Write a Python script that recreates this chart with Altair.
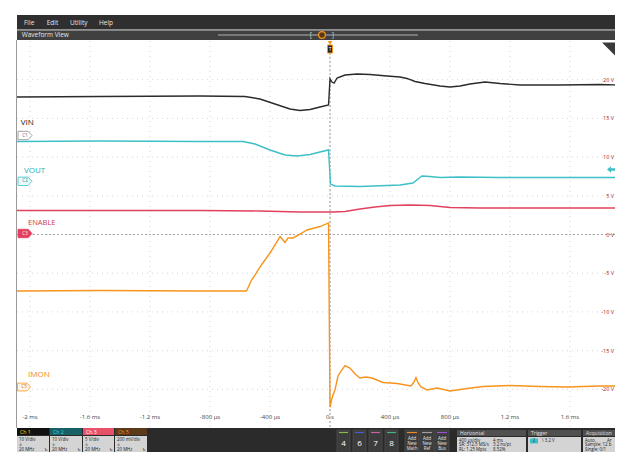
import altair as alt
import pandas as pd

# ---------------- data (time in ms, value in on-screen volts of the 5 V/div scale) -------------
time_ticks = [-2.0, -1.6, -1.2, -0.8, -0.4, 0.0, 0.4, 0.8, 1.2, 1.6]
time_labels = ["-2 ms", "-1.6 ms", "-1.2 ms", "-800 µs", "-400 µs", "0 s",
               "400 µs", "800 µs", "1.2 ms", "1.6 ms"]
volt_ticks = [20, 15, 10, 5, 0, -5, -10, -15, -20]
volt_labels = ["20 V", "15 V", "10 V", "5 V", "0 V", "-5 V", "-10 V", "-15 V", "-20 V"]

vin_t = [-2.087, -1.533, -0.867, -0.567, -0.467, -0.367, -0.267, -0.2, -0.133, -0.067, -0.01,
         0.0, 0.013, 0.027, 0.047, 0.1, 0.18, 0.267, 0.38, 0.467, 0.513, 0.567, 0.633, 0.733,
         0.8, 0.867, 0.933, 1.033, 1.133, 1.267, 1.533, 1.8, 1.933]
vin_v = [17.76, 17.83, 17.89, 17.83, 17.51, 16.86, 16.21, 16.02, 16.15, 16.47, 16.73,
         20.09, 19.70, 19.57, 20.22, 20.61, 20.74, 20.67, 20.48, 20.35, 20.16, 19.77, 19.51, 19.19,
         19.06, 19.19, 19.44, 19.70, 19.51, 19.32, 19.32, 19.38, 19.32]

vout_t = [-2.087, -1.533, -0.867, -0.58, -0.5, -0.4, -0.3, -0.22, -0.133, -0.067, -0.01,
          0.003, 0.033, 0.2, 0.467, 0.553, 0.587, 0.613, 0.667, 0.733, 0.867, 1.133, 1.533, 1.933]
vout_v = [12.02, 12.08, 12.02, 12.02, 11.69, 10.92, 10.27, 10.14, 10.34, 10.66, 10.92,
          6.52, 6.27, 6.20, 6.40, 6.65, 7.17, 7.56, 7.49, 7.36, 7.43, 7.36, 7.36, 7.36]

en_t = [-2.087, -0.867, -0.467, -0.2, 0.02, 0.1, 0.2, 0.3, 0.4, 0.533, 0.667, 0.8, 1.0, 1.933]
en_v = [3.10, 3.10, 3.04, 2.91, 2.91, 2.97, 3.29, 3.55, 3.75, 3.81, 3.75, 3.49, 3.42, 3.42]

imon_t = [-2.087, -1.533, -0.867, -0.557, -0.523, -0.5, -0.453, -0.4, -0.333, -0.3, -0.28,
          -0.247, -0.2, -0.153, -0.067, -0.01, 0.0, 0.01, 0.02, 0.033, 0.053, 0.078, 0.1,
          0.133, 0.167, 0.2, 0.24, 0.28, 0.353, 0.447, 0.54, 0.56, 0.573, 0.587, 0.607,
          0.647, 0.713, 0.8, 0.913, 1.02, 1.2, 1.4, 1.58, 1.8, 1.933]
imon_v = [-7.30, -7.24, -7.30, -7.30, -5.88, -5.23, -3.81, -2.39, -0.26, -1.03, -0.45,
          -0.45, 0.06, 0.58, 1.03, 1.49, -22.29, -21.38, -20.74, -20.09, -18.28, -17.51, -16.93,
          -17.25, -18.02, -18.54, -18.41, -18.54, -19.12, -19.25, -19.57, -19.06, -18.48, -19.19, -19.70,
          -20.09, -19.83, -20.22, -19.90, -19.64, -19.51, -19.64, -19.70, -19.57, -19.57]

# ---------------- styling ----------------
FONT = "Open Sans"
W, H = 598, 387
XS = alt.Scale(domain=[-2.087, 1.9], nice=False, zero=False)
YS = alt.Scale(domain=[-25, 25], nice=False, zero=False)
BLACK, CYAN, RED, ORANGE = "#2b2b2b", "#3cc0c8", "#e2405c", "#f7941d"


def one():
    return alt.Chart(alt.Data(values=[{"k": 1}]))


def box(x, x2, y, y2, fill, stroke=None, sw=0.8, radius=0):
    kw = {"fill": fill}
    if stroke:
        kw.update(stroke=stroke, strokeWidth=sw)
    if radius:
        kw["cornerRadius"] = radius
    return one().mark_rect(**kw).encode(x=alt.value(x), x2=alt.value(x2),
                                         y=alt.value(y), y2=alt.value(y2))


def label(x, y, s, color, size=6.0, align="left", weight="normal"):
    return one().mark_text(align=align, baseline="middle", fontSize=size, color=color,
                           font=FONT, fontWeight=weight).encode(
        x=alt.value(x), y=alt.value(y), text=alt.value(s))


def hline(x, x2, y, color, width=1.0, dash=None):
    kw = {"color": color, "strokeWidth": width}
    if dash:
        kw["strokeDash"] = dash
    return one().mark_rule(**kw).encode(x=alt.value(x), x2=alt.value(x2), y=alt.value(y))


def vline(x, y, y2, color, width=1.0):
    return one().mark_rule(color=color, strokeWidth=width).encode(
        x=alt.value(x), y=alt.value(y), y2=alt.value(y2))


def sym(x, y, shape, size, fill, stroke=None, sw=0.8):
    kw = {"shape": shape, "size": size, "filled": True, "fill": fill, "opacity": 1}
    if stroke:
        kw.update(stroke=stroke, strokeWidth=sw)
    else:
        kw["strokeWidth"] = 0
    return one().mark_point(**kw).encode(x=alt.value(x), y=alt.value(y))


def wave(t, v, color, width=1.4):
    df = pd.DataFrame({"t": t, "v": v})
    return alt.Chart(df).mark_line(color=color, strokeWidth=width, clip=True).encode(
        x=alt.X("t:Q", scale=XS, axis=None), y=alt.Y("v:Q", scale=YS, axis=None))


layers = []

# grid
layers.append(alt.Chart(pd.DataFrame({"t": time_ticks})).mark_rule(
    color="#d6d6d6", strokeDash=[1, 4]).encode(
    x=alt.X("t:Q", scale=XS, axis=None), y=alt.value(0), y2=alt.value(H)))
layers.append(alt.Chart(pd.DataFrame({"v": volt_ticks})).mark_rule(
    color="#d6d6d6", strokeDash=[1, 4]).encode(
    y=alt.Y("v:Q", scale=YS, axis=None), x=alt.value(0), x2=alt.value(W)))
# 0 V marker line and trigger line
layers.append(alt.Chart(pd.DataFrame({"v": [0]})).mark_rule(
    color="#a8a8a8", strokeDash=[2, 2]).encode(
    y=alt.Y("v:Q", scale=YS, axis=None), x=alt.value(0), x2=alt.value(W)))
layers.append(alt.Chart(pd.DataFrame({"t": [0.0]})).mark_rule(
    color="#999999", strokeDash=[2, 2]).encode(
    x=alt.X("t:Q", scale=XS, axis=None), y=alt.value(12), y2=alt.value(H)))

# waveforms
layers.append(wave(en_t, en_v, RED))
layers.append(wave(vout_t, vout_v, CYAN))
layers.append(wave(vin_t, vin_v, BLACK))
layers.append(wave(imon_t, imon_v, ORANGE))

# axis labels
layers.append(alt.Chart(pd.DataFrame({"t": time_ticks, "lab": time_labels})).mark_text(
    fontSize=6, color="#444444", font=FONT, baseline="middle").encode(
    x=alt.X("t:Q", scale=XS, axis=None), y=alt.value(376), text="lab:N"))
layers.append(alt.Chart(pd.DataFrame({"v": volt_ticks, "lab": volt_labels})).mark_text(
    fontSize=5.5, color="#9b2335", font=FONT, baseline="middle", align="right").encode(
    y=alt.Y("v:Q", scale=YS, axis=None), x=alt.value(597), text="lab:N"))

# channel names and badges
TAG = "M -1 -0.6 L 0.45 -0.6 L 1 0 L 0.45 0.6 L -1 0.6 Z"
layers += [
    label(3.7, 82, "VIN", "#222222", 8),
    sym(8, 94.5, TAG, 196, "#ffffff", "#8a8a8a"),
    label(8, 94.5, "C1", "#666666", 4.5, "center"),
    label(7, 129.7, "VOUT", "#2ab0b8", 8),
    sym(8, 140.3, TAG, 196, "#eafafa", CYAN),
    label(8, 140.3, "C2", "#2a8a90", 4.5, "center"),
    label(11, 182, "ENABLE", "#cf3a55", 7.5),
    sym(8, 192.5, TAG, 196, RED, RED),
    label(8, 192.5, "C3", "#ffffff", 4.5, "center"),
    label(11, 334, "IMON", "#f08a20", 8),
    sym(7, 346, TAG, 170, "#fff6ea", ORANGE),
    label(7, 346, "C5", "#c86a10", 4.5, "center"),
]

# right-side cyan arrow, top-right triangle, trigger badge
ARROW = "M -1 0 L 0 -0.8 L 0 -0.3 L 1 -0.3 L 1 0.3 L 0 0.3 L 0 0.8 Z"
layers += [
    sym(594, 128.5, ARROW, 64, CYAN),
    sym(591.5, 8, "M -1 -1 L 1 -1 L 1 1 Z", 169, "#3a3a3a"),
    sym(313, 2, "triangle-down", 22, ORANGE),
    box(310.5, 315.5, 4, 12, "#222222", ORANGE, 1),
    label(313, 8, "T", "#ffffff", 5, "center"),
]

# frame border
layers.append(vline(-0.5, -1, H, "#9a9a9a"))

# header bars
layers += [
    box(0, W, -26, -11.5, "#2f2f2f"),
    hline(0, W, -11, "#8a8a8a"),
    box(0, W, -10.5, -1, "#404040"),
    label(7, -18.5, "File", "#e6e6e6", 6.5),
    label(29.7, -18.5, "Edit", "#e6e6e6", 6.5),
    label(53, -18.5, "Utility", "#e6e6e6", 6.5),
    label(82, -18.5, "Help", "#e6e6e6", 6.5),
    label(4.7, -6, "Waveform View", "#e6e6e6", 6.5),
    hline(201, 401, -6, "#b0b0b0"),
    label(294, -6, "[", "#cccccc", 7, "center"),
    label(316, -6, "]", "#cccccc", 7, "center"),
    sym(305, -6, "circle", 45, "#5a3a10", ORANGE, 1.2),
]

# bottom panel
DARK_TXT = "#222222"
FS = 4.4
layers.append(box(0, W, 387, 412, "#2b2b2b"))
chans = [
    (0, 32, "Ch 1", "#111111", "#e8e020", "10 V/div"),
    (33, 65, "Ch 2", "#176066", "#40d0d8", "10 V/div"),
    (66, 97, "Ch 3", "#e8506a", "#ffffff", "5 V/div"),
    (98, 130, "Ch 5", "#5a3a18", "#f7941d", "200 mV/div"),
]
for x0, x1, name, hfill, hcol, scale_txt in chans:
    layers += [
        box(x0, x1, 387, 394, hfill),
        label(x0 + 3, 390.5, name, hcol, 5.2),
        box(x0, x1, 395, 412, "#d4d4d4"),
        label(x0 + 2, 399, scale_txt, DARK_TXT, FS),
        label(x0 + 2, 404, "⏚", DARK_TXT, FS),
        label(x0 + 2, 408.8, "20 MHz", DARK_TXT, FS),
        label(x1 - 3, 408.8, "Ъ", DARK_TXT, 4.2, "center"),
    ]
for x0, num, col in [(320, "4", "#8ab84a"), (336, "6", "#4a5ad8"),
                     (352, "7", "#d060a0"), (368, "8", "#40b880")]:
    layers += [
        box(x0, x0 + 13, 389, 412, "#3c3c3c", "#555555", 0.6),
        hline(x0 + 2, x0 + 11, 391.5, col, 1.2),
        label(x0 + 6.5, 403, num, "#ffffff", 8, "center"),
    ]
for x0, word, col in [(388, "Math", "#f08a20"), (403, "Ref", "#a0a0a0"), (418, "Bus", "#9a50d0")]:
    layers += [
        box(x0, x0 + 14, 389, 412, "#3c3c3c", "#555555", 0.6),
        hline(x0 + 2, x0 + 12, 391.5, col, 1.2),
        label(x0 + 7, 397.5, "Add", "#e6e6e6", FS, "center"),
        label(x0 + 7, 402.8, "New", "#e6e6e6", FS, "center"),
        label(x0 + 7, 408.1, word, "#e6e6e6", FS, "center"),
    ]
# Horizontal / Trigger / Acquisition panels
panels = [(440, 509, "Horizontal"), (511, 564, "Trigger"), (566, W, "Acquisition")]
for x0, x1, title in panels:
    layers += [
        box(x0, x1, 389, 395, "#505050"),
        label(x0 + 3, 392, title, "#e0e0e0", 5),
        box(x0, x1, 396, 412, "#d4d4d4"),
    ]
layers += [
    label(442, 399.5, "400 µs/div", DARK_TXT, FS),
    label(476, 399.5, "4 ms", DARK_TXT, FS),
    label(442, 404.3, "SR: 312.5 MS/s", DARK_TXT, FS),
    label(476, 404.3, "3.2 ns/pt", DARK_TXT, FS),
    label(442, 409, "RL: 1.25 Mpts", DARK_TXT, FS),
    label(476, 409, "8.52%", DARK_TXT, FS),
    box(513, 521, 397.5, 402.5, CYAN, radius=1),
    label(517, 400, "2", "#1a4a50", FS, "center"),
    label(525, 400, "\\  3.2 V", DARK_TXT, FS),
    label(568, 399.5, "Auto,", DARK_TXT, FS),
    label(590, 399.5, "Ar", DARK_TXT, FS),
    label(568, 404.3, "Sample: 12 b", DARK_TXT, FS),
    label(568, 409, "Single: 0/1", DARK_TXT, FS),
]

chart = alt.layer(*layers).properties(
    width=W, height=H,
    padding={"left": 9, "top": 33, "right": 0, "bottom": 24},
    autosize="none",
).configure_view(stroke=None)

chart.save("out.html", embed_options={"renderer": "svg", "actions": False})
